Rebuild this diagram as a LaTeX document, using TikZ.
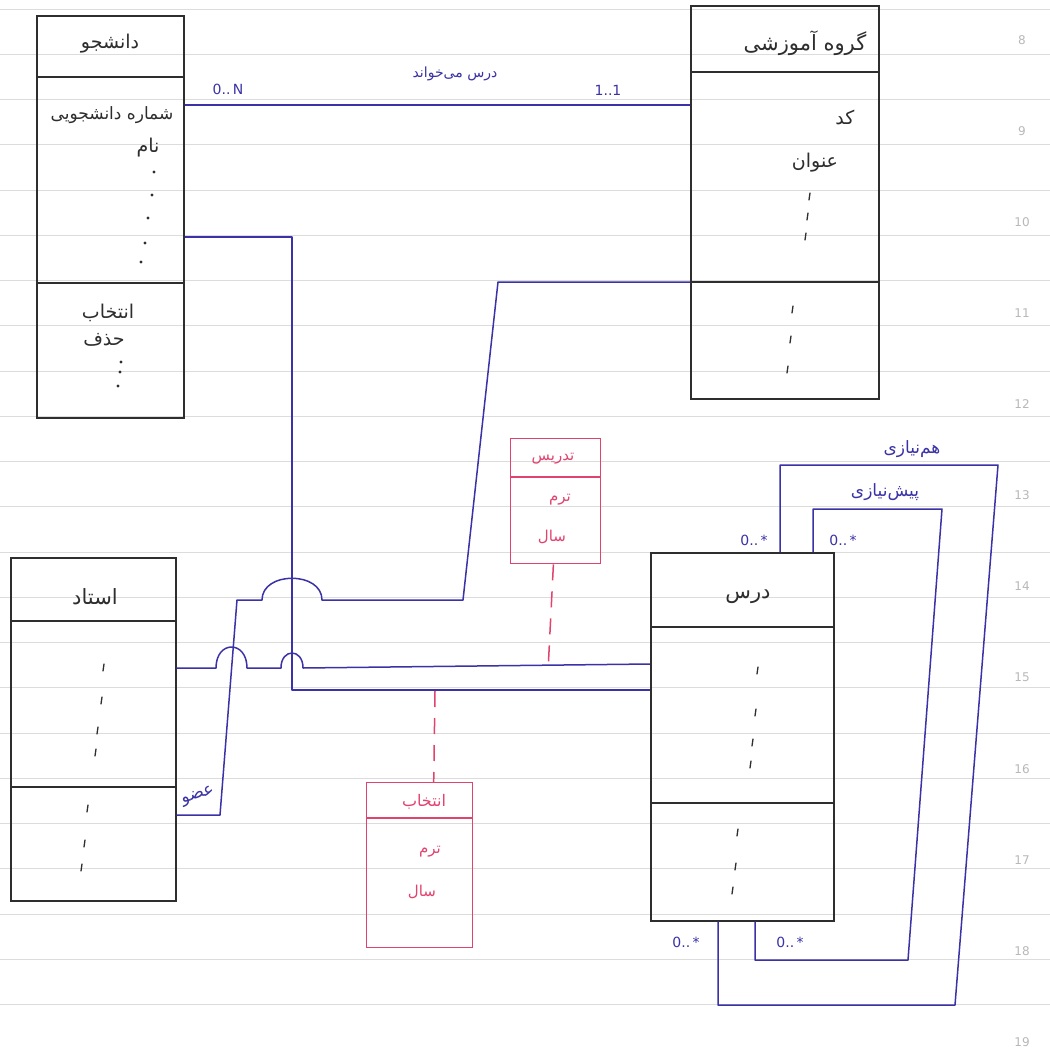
\documentclass[tikz,border=0pt]{standalone}
\usepackage{fontspec}
\setmainfont{DejaVu Sans}
\newfontfamily\fa[Script=Arabic]{DejaVu Sans}
\TeXXeTstate=1
\usetikzlibrary{calc}
\newcommand{\pers}[1]{{\fa\beginR #1\endR}}
\definecolor{inkk}{HTML}{2E2E2E}
\definecolor{inkb}{HTML}{3A32A6}
\definecolor{inkr}{HTML}{E0446E}
\definecolor{rulec}{HTML}{DCDCDC}
\definecolor{pgc}{HTML}{B8B8B8}
\begin{document}
\begin{tikzpicture}[x=1pt,y=-1pt,
  cls/.style={draw=inkk, line width=1.6pt, inner sep=0pt, anchor=north west},
  acls/.style={draw=inkr, line width=1.4pt, inner sep=0pt, anchor=north west},
  sepk/.style={draw=inkk, line width=1.4pt},
  sepr/.style={draw=inkr, line width=1.3pt},
  assoc/.style={draw=inkb, line width=1.5pt, line join=round},
  ascdash/.style={draw=inkr, line width=1.5pt, dash pattern=on 16pt off 11pt},
  ktext/.style={text=inkk, font=\fontsize{19}{21}\selectfont, inner sep=0pt},
  htext/.style={text=inkk, font=\fontsize{21}{23}\selectfont, inner sep=0pt},
  rtext/.style={text=inkr, font=\fontsize{15}{17}\selectfont, inner sep=0pt},
  btext/.style={text=inkb, font=\fontsize{14}{16}\selectfont, inner sep=0pt},
  bltext/.style={text=inkb, font=\fontsize{17}{19}\selectfont, inner sep=0pt},
  tick/.style={draw=inkk, line width=1.3pt, line cap=round},
  rulel/.style={draw=rulec, line width=0.7pt},
  pgnum/.style={text=pgc, font=\fontsize{12}{14}\selectfont, inner sep=0pt}]
\useasboundingbox[fill=white] (0,0) rectangle (1050,1049);
% notebook ruling
\foreach \k in {0,...,22} \draw[rulel] (0,{9+45.25*\k}) -- (1050,{9+45.25*\k});
\foreach \n [count=\i from 0] in {8,...,19} \node[pgnum] (pg\n) at (1022,{40+91.1*\i}) {\n};

% ---------- class boxes ----------
\node[cls, minimum width=147pt, minimum height=402pt] (stu) at (36,15) {};
\draw[sepk] ($(stu.north west)+(0,62)$) -- ($(stu.north east)+(0,62)$);
\draw[sepk] ($(stu.north west)+(0,268)$) -- ($(stu.north east)+(0,268)$);

\node[cls, minimum width=188pt, minimum height=393pt] (grp) at (690,5) {};
\draw[sepk] ($(grp.north west)+(0,67)$) -- ($(grp.north east)+(0,67)$);
\draw[sepk] ($(grp.north west)+(0,277)$) -- ($(grp.north east)+(0,277)$);

\node[cls, minimum width=165pt, minimum height=343pt] (prof) at (10,557) {};
\draw[sepk] ($(prof.north west)+(0,64)$) -- ($(prof.north east)+(0,64)$);
\draw[sepk] ($(prof.north west)+(0,230)$) -- ($(prof.north east)+(0,230)$);

\node[cls, minimum width=183pt, minimum height=368pt] (crs) at (650,552) {};
\draw[sepk] ($(crs.north west)+(0,75)$) -- ($(crs.north east)+(0,75)$);
\draw[sepk] ($(crs.north west)+(0,251)$) -- ($(crs.north east)+(0,251)$);

% association classes
\node[acls, minimum width=90pt, minimum height=125pt] (tdr) at (510,438) {};
\draw[sepr] ($(tdr.north west)+(0,39)$) -- ($(tdr.north east)+(0,39)$);
\node[acls, minimum width=106pt, minimum height=165pt] (sel) at (366,782) {};
\draw[sepr] ($(sel.north west)+(0,36)$) -- ($(sel.north east)+(0,36)$);

% ---------- texts in boxes ----------
\node[ktext] (stuh) at (110,44) {\pers{دانشجو}};
\node[ktext, font=\fontsize{17}{19}\selectfont] (stua1) at (112,115) {\pers{شماره دانشجویی}};
\node[ktext] (stua2) at (148,148) {\pers{نام}};
\foreach \p in {(154,172),(152,195),(148,218),(145,243),(141,262),(121,362),(120,372),(118,386)}
  \fill[inkk] \p circle (1.6pt);
\node[ktext] (stum1) at (108,313) {\pers{انتخاب}};
\node[ktext] (stum2) at (104,340) {\pers{حذف}};

\node[htext] (grph) at (805,43) {\pers{گروه آموزشی}};
\node[ktext] (grpa1) at (845,117) {\pers{کد}};
\node[ktext] (grpa2) at (815,163) {\pers{عنوان}};
\foreach \p in {(810,193),(808,213),(806,233),(793,306),(791,336),(788,366)}
  \draw[tick] \p -- ++(-1,7);

\node[htext] (profh) at (95,597) {\pers{استاد}};
\foreach \p in {(104,664),(102,697),(98,727),(96,749),(88,805),(85,840),(82,864)}
  \draw[tick] \p -- ++(-1,7);

\node[htext] (crsh) at (748,597) {\pers{درس}};
\foreach \p in {(758,667),(756,709),(753,739),(751,761),(738,829),(736,863),(733,887)}
  \draw[tick] \p -- ++(-1,7);

\node[rtext] (tdrh) at (553,459) {\pers{تدریس}};
\node[rtext] (tdra1) at (560,500) {\pers{ترم}};
\node[rtext] (tdra2) at (552,537) {\pers{سال}};
\node[rtext, font=\fontsize{16}{18}\selectfont] (selh) at (424,802) {\pers{انتخاب}};
\node[rtext] (sela1) at (430,852) {\pers{ترم}};
\node[rtext] (sela2) at (422,892) {\pers{سال}};

% ---------- associations ----------
% student -- department
\draw[assoc] ($(stu.north east)+(0,90)$) -- ($(grp.north west)+(0,100)$);
\node[btext] (c1l) at (455,74) {\pers{درس می‌خواند}};
\node[btext] (c1m1) at (228,89) {0..\,N};
\node[btext] (c1m2) at (608,90) {1..1};

% student -- course (selection)
\draw[assoc] ($(stu.north east)+(0,222)$) -| (292,690) -- ($(crs.north west)+(0,138)$);
\coordinate (selj) at (435,691);

% department -- professor (member)
\draw[assoc] ($(grp.north west)+(0,277)$) -- (498,282) -- (463,600) -- (322,600)
  .. controls (322,571) and (262,571) .. (262,600) -- (237,600) -- (220,815) -- (prof.east |- 0,815);
\node[bltext, rotate=18] (c3l) at (198,796) {\pers{عضو}};

% professor -- course (teaching)
\draw[assoc] (prof.east |- 0,668) -- (216,668)
  .. controls (216,640) and (247,640) .. (247,668) -- (281,668)
  .. controls (281,648) and (303,648) .. (303,668) -- (crs.west |- 0,664);
\coordinate (tdrj) at (548.3,665.5);

% association class links
\draw[ascdash] ($(tdr.south)+(-2.3,0)$) -- (tdrj);
\draw[ascdash] (selj) -- ($(sel.north)+(14,0)$);

% course self associations
\draw[assoc] ($(crs.north west)+(130,0)$) -- (780,465) -- (998,465) -- (955,1005) -- (718,1005) -- ($(crs.south west)+(68,0)$);
\draw[assoc] ($(crs.north west)+(163,0)$) -- (813,509) -- (942,509) -- (908,960) -- (755,960) -- ($(crs.south west)+(105,0)$);
\node[bltext] (co1) at (912,449) {\pers{هم‌نیازی}};
\node[bltext] (co2) at (885,492) {\pers{پیش‌نیازی}};
\node[btext] (m1) at (754,540) {0..\,*};
\node[btext] (m2) at (843,540) {0..\,*};
\node[btext] (m3) at (686,942) {0..\,*};
\node[btext] (m4) at (790,942) {0..\,*};
\end{tikzpicture}
\end{document}
